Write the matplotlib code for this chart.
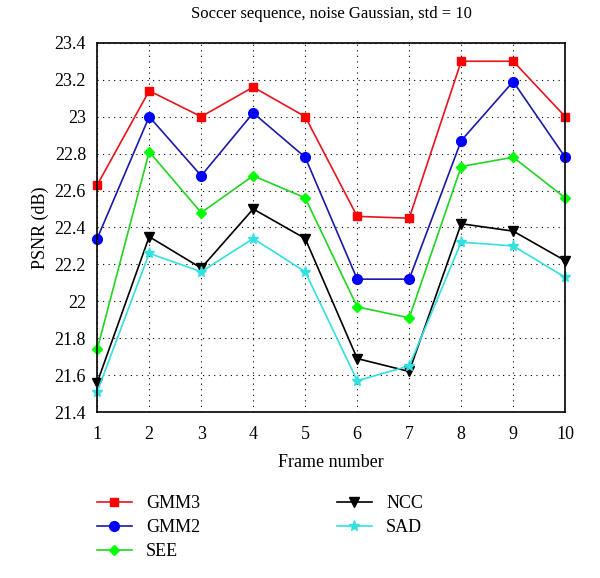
import matplotlib
matplotlib.use("Agg")
from matplotlib import pyplot as plt

plt.rcParams['font.family'] = ['Liberation Serif', 'DejaVu Serif']

frames = [1, 2, 3, 4, 5, 6, 7, 8, 9, 10]
gmm3 = [22.63, 23.14, 23.00, 23.16, 23.00, 22.46, 22.45, 23.30, 23.30, 23.00]
gmm2 = [22.34, 23.00, 22.68, 23.02, 22.78, 22.12, 22.12, 22.87, 23.19, 22.78]
see = [21.74, 22.81, 22.48, 22.68, 22.56, 21.97, 21.91, 22.73, 22.78, 22.56]
ncc = [21.56, 22.35, 22.18, 22.50, 22.34, 21.69, 21.62, 22.42, 22.38, 22.22]
sad = [21.51, 22.26, 22.16, 22.34, 22.16, 21.57, 21.65, 22.32, 22.30, 22.13]
yticks = [21.4, 21.6, 21.8, 22, 22.2, 22.4, 22.6, 22.8, 23, 23.2, 23.4]

fig = plt.figure(figsize=(6, 5.78), dpi=100)
ax = fig.add_axes([0.162, 0.287, 0.78, 0.639])

ax.plot(frames, gmm3, '-s', color='#e8141c', mfc='#ff0000', mec='#ff0000', ms=6, lw=1.2, label='GMM3', clip_on=False)
ax.plot(frames, gmm2, '-o', color='#1a1aa8', mfc='#0000ff', mec='#0000ff', ms=7, lw=1.2, label='GMM2', clip_on=False)
ax.plot(frames, see, '-D', color='#22d422', mfc='#00ff00', mec='#00ff00', ms=5, lw=1.2, label='SEE', clip_on=False)
ax.plot(frames, ncc, '-v', color='black', ms=7, lw=1.2, label='NCC', clip_on=False)
ax.plot(frames, sad, '-*', color='#33e0e0', mfc='#33e0e0', mec='#33e0e0', ms=8, lw=1.2, label='SAD', clip_on=False)

ax.set_xlim(1, 10)
ax.set_ylim(21.4, 23.4)
ax.set_xticks(frames)
ax.set_yticks(yticks)
ax.set_yticklabels(['%g' % v for v in yticks])
ax.grid(True, linestyle=(0, (1, 4)), color='black', lw=0.8)
ax.tick_params(axis='x', labelsize=13, direction='in', length=0, pad=10)
ax.tick_params(axis='y', labelsize=13, direction='in', length=0, pad=8)
for s in ax.spines.values():
    s.set_linewidth(1.2)
ax.set_xlabel('Frame number', fontsize=13, labelpad=8)
ax.set_ylabel('PSNR (dB)', fontsize=13)
ax.set_title('Soccer sequence, noise Gaussian, std = 10', fontsize=12, pad=18)

h, l = ax.get_legend_handles_labels()
fig.legend(h, l, ncol=2, loc='upper left',
           bbox_to_anchor=(0.135, 0.172), frameon=False, fontsize=13,
           columnspacing=7.6, handlelength=1.9, labelspacing=0.4)

fig.savefig('out.png', dpi=100)
